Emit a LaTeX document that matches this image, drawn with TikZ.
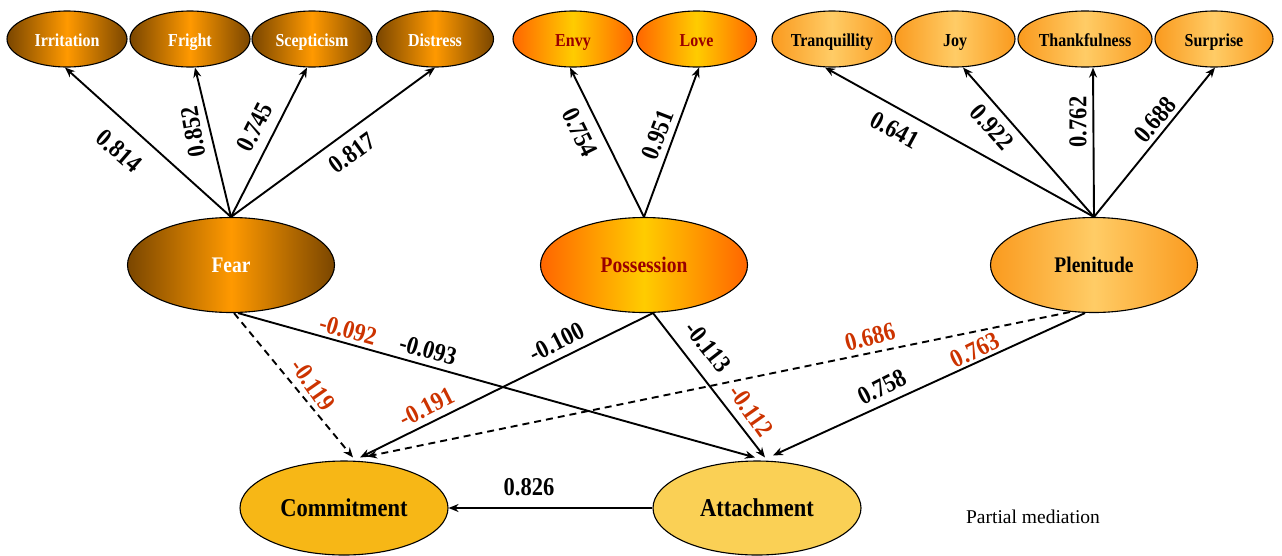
\documentclass[tikz,border=0pt]{standalone}
\usepackage{graphicx}
\usepackage{fontspec}
\setmainfont{Liberation Serif}
\usetikzlibrary{shapes.geometric,arrows.meta}

\definecolor{fearedge}{HTML}{7A4600}
\definecolor{fearmid}{HTML}{FF9900}
\definecolor{posedge}{HTML}{FF6600}
\definecolor{posmid}{HTML}{FFCC00}
\definecolor{plenedge}{HTML}{FA9A1E}
\definecolor{plenmid}{HTML}{FFCC66}
\definecolor{commitfill}{HTML}{F7B716}
\definecolor{attachfill}{HTML}{FAD055}
\definecolor{postext}{HTML}{990000}
\definecolor{mediated}{HTML}{CC3300}

% taller, narrow-looking lettering
\newcommand{\tallt}[1]{\scalebox{1}[1.14]{#1}}

\tikzset{
  latent/.style={ellipse, draw=black, line width=1.1pt, inner sep=0pt},
  indicator/.style={latent, minimum width=120pt, minimum height=56pt,
    text height=16pt, text depth=2pt,
    font=\fontsize{16}{16}\selectfont\bfseries},
  construct/.style={latent, minimum width=207pt, minimum height=95pt,
    font=\fontsize{19.5}{20}\selectfont\bfseries},
  outcome/.style={latent, minimum width=208pt, minimum height=94pt,
    font=\fontsize{22.5}{23}\selectfont\bfseries},
  feargrad/.style={left color=fearedge, right color=fearedge, middle color=fearmid, text=white},
  posgrad/.style={left color=posedge, right color=posedge, middle color=posmid, text=postext},
  plengrad/.style={left color=plenedge, right color=plenedge, middle color=plenmid, text=black},
  link/.style={line width=1.9pt, -{Stealth[length=10pt,width=8pt]}},
  dashlink/.style={link, dash pattern=on 7pt off 5pt},
  weight/.style={font=\fontsize{22.5}{23}\selectfont\bfseries, inner sep=0pt, text=black},
  direct/.style={weight, text=mediated},
}

\begin{document}
\begin{tikzpicture}[x=1pt,y=-1pt]
\useasboundingbox (0,0) rectangle (1282,555);

% indicator ellipses
\node[indicator, feargrad] (irr) at (67,39) {\tallt{Irritation}};
\node[indicator, feargrad] (fri) at (190,39) {\tallt{Fright}};
\node[indicator, feargrad] (sce) at (312,39) {\tallt{Scepticism}};
\node[indicator, feargrad, minimum width=117pt] (dis) at (435,39) {\tallt{Distress}};
\node[indicator, posgrad] (env) at (573,39) {\tallt{Envy}};
\node[indicator, posgrad] (lov) at (696.5,39) {\tallt{Love}};
\node[indicator, plengrad] (tra) at (832,39) {\tallt{Tranquillity}};
\node[indicator, plengrad] (joy) at (955,39) {\tallt{Joy}};
\node[indicator, plengrad, minimum width=134pt] (tha) at (1085,39) {\tallt{Thankfulness}};
\node[indicator, plengrad, minimum width=118pt] (sur) at (1214,39) {\tallt{Surprise}};

% constructs
\node[construct, feargrad] (fear) at (231,265) {\tallt{Fear}};
\node[construct, posgrad] (poss) at (644,265) {\tallt{Possession}};
\node[construct, plengrad] (plen) at (1094,265) {\tallt{Plenitude}};
\node[outcome, fill=commitfill] (commit) at (344,508) {\tallt{Commitment}};
\node[outcome, fill=attachfill] (attach) at (757,508) {\tallt{Attachment}};

% loadings
\draw[link] (fear.north) -- ([xshift=-2pt]irr.south);
\draw[link] (fear.north) -- ([xshift=5pt]fri.south);
\draw[link] (fear.north) -- ([xshift=-5pt]sce.south);
\draw[link] (fear.north) -- (dis.south);
\draw[link] (poss.north) -- ([xshift=-3pt]env.south);
\draw[link] (poss.north) -- ([xshift=2.5pt]lov.south);
\draw[link] (plen.north) -- ([xshift=-7pt]tra.south);
\draw[link] (plen.north) -- ([xshift=8pt]joy.south);
\draw[link] (plen.north) -- ([xshift=8pt]tha.south);
\draw[link] (plen.north) -- ([xshift=1pt]sur.south);

\node[weight, rotate=-41] (l1) at (119,151) {\tallt{0.814}};
\node[weight, rotate=100] (l2) at (193,132) {\tallt{0.852}};
\node[weight, rotate=63] (l3) at (255,127) {\tallt{0.745}};
\node[weight, rotate=36] (l4) at (352,153) {\tallt{0.817}};
\node[weight, rotate=-63.6] (l5) at (580,132) {\tallt{0.754}};
\node[weight, rotate=69] (l6) at (658,135) {\tallt{0.951}};
\node[weight, rotate=-28.4] (l7) at (895,130) {\tallt{0.641}};
\node[weight, rotate=-48.5] (l8) at (992,127) {\tallt{0.922}};
\node[weight, rotate=90] (l9) at (1078,122) {\tallt{0.762}};
\node[weight, rotate=50] (l10) at (1155,120) {\tallt{0.688}};

% structural paths
\draw[dashlink] ([xshift=3pt]fear.south) -- ([xshift=9pt,yshift=3pt]commit.north);
\draw[link] ([xshift=7pt]fear.south) -- ([xshift=-2pt,yshift=3pt]attach.north);
\draw[link] ([xshift=9pt]poss.south) -- ([xshift=16pt,yshift=3pt]commit.north);
\draw[link] ([xshift=9pt]poss.south) -- ([xshift=8pt,yshift=3pt]attach.north);
\draw[dashlink] ([xshift=-24pt,yshift=1pt]plen.south) -- ([xshift=23pt,yshift=4pt]commit.north);
\draw[link] ([xshift=-9pt]plen.south) -- ([xshift=16pt,yshift=5pt]attach.north);
\draw[link] (attach.west) -- (commit.east);

\node[direct, rotate=-16] (p1) at (348,330) {\tallt{-0.092}};
\node[weight, rotate=-16] (p2) at (428,350) {\tallt{-0.093}};
\node[direct, rotate=-55] (p3) at (313,385) {\tallt{-0.119}};
\node[weight, rotate=27] (p4) at (557,342) {\tallt{-0.100}};
\node[direct, rotate=27] (p5) at (427,407) {\tallt{-0.191}};
\node[weight, rotate=-52] (p6) at (708,347) {\tallt{-0.113}};
\node[direct, rotate=-55] (p7) at (751,411) {\tallt{-0.112}};
\node[direct, rotate=15] (p8) at (870,337) {\tallt{0.686}};
\node[direct, rotate=26] (p9) at (975,350) {\tallt{0.763}};
\node[weight, rotate=27] (p10) at (882,387) {\tallt{0.758}};
\node[weight] (p11) at (529,487) {\tallt{0.826}};

\node[font=\fontsize{19.5}{20}\selectfont, inner sep=0pt] (note) at (1033,517) {Partial mediation};
\end{tikzpicture}
\end{document}
